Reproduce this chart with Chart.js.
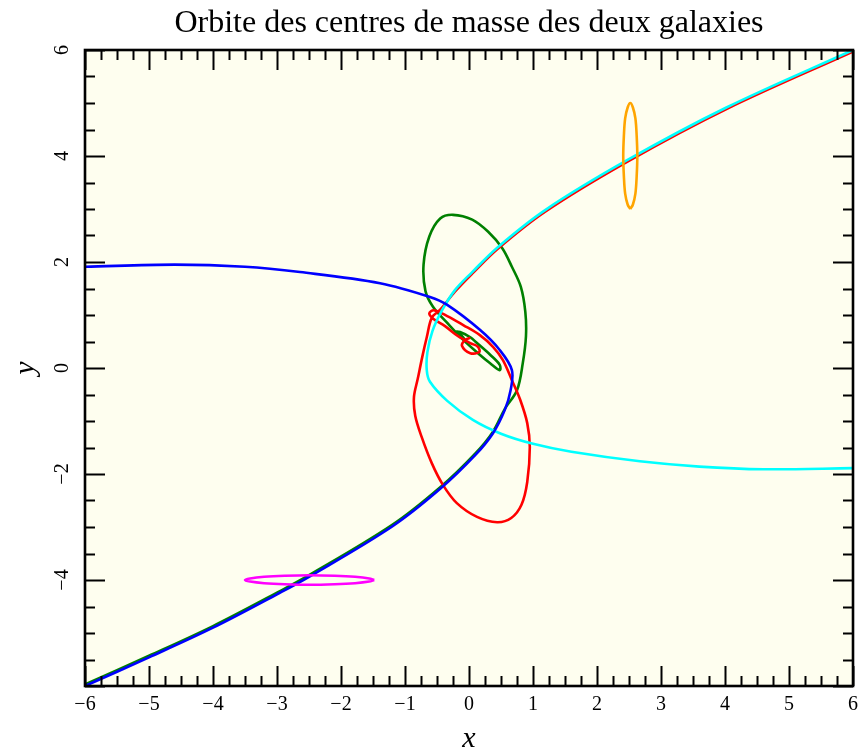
<!DOCTYPE html>
<html>
<head>
<meta charset="utf-8">
<script src="https://cdn.jsdelivr.net/npm/chart.js@4.4.0/dist/chart.umd.min.js"></script>
<style>
  html, body { margin: 0; padding: 0; background: #ffffff; }
</style>
</head>
<body>
<canvas id="orbit" width="860" height="753"></canvas>
<script>
// Orbites (unités du graphique)
const blueX = [-6, -4.6, -3.5, -2.64, -1.39, -0.61, -0.34, 0.17, 0.48, 0.67, 0.65, 0.56, 0.375, 0.1, -0.45, -1.2, -2.5, -3, -4, -5, -6];
const blueY = [1.91, 1.95, 1.91, 1.81, 1.60, 1.34, 1.19, 0.72, 0.34, -0.04, -0.42, -0.79, -1.23, -1.64, -2.28, -2.99, -3.94, -4.27, -4.90, -5.46, -6];

const cyanX = [6, 4.03, 2.47, 1.19, 0.45, 0.05, -0.22, -0.42, -0.57, -0.65, -0.66, -0.61, -0.34, 0.06, 0.5, 1.0, 1.6, 2.67, 3.6, 4.6, 6];
const cyanY = [6, 4.92, 3.92, 2.98, 2.28, 1.81, 1.47, 1.09, 0.70, 0.30, -0.04, -0.26, -0.62, -0.98, -1.24, -1.43, -1.58, -1.76, -1.86, -1.91, -1.89];

const redX = [6, 4.03, 2.47, 1.19, 0.45, 0.05, -0.22, -0.45, -0.58, -0.66, -0.73, -0.80, -0.86, -0.84, -0.74, -0.58, -0.41, -0.19, 0.125, 0.44, 0.66, 0.82, 0.91, 0.95, 0.91, 0.80, 0.67, 0.53, 0.375, 0.17, -0.09, -0.34, -0.55, -0.62, -0.56, -0.375, -0.17, 0.02, 0.14, 0.16, 0.02, -0.11, -0.06, 0.02];
const redY = [5.97, 4.89, 3.89, 2.95, 2.25, 1.78, 1.44, 1.10, 0.95, 0.58, 0.21, -0.20, -0.55, -0.90, -1.30, -1.80, -2.20, -2.55, -2.81, -2.91, -2.83, -2.58, -2.15, -1.49, -1.04, -0.60, -0.23, 0.15, 0.40, 0.62, 0.81, 0.98, 1.09, 1.03, 0.93, 0.79, 0.60, 0.47, 0.40, 0.30, 0.28, 0.42, 0.53, 0.57];

const greenX = [-6, -5, -4, -3, -2.5, -1.2, -0.45, 0.1, 0.375, 0.56, 0.75, 0.84, 0.89, 0.88, 0.81, 0.67, 0.52, 0.30, 0.05, -0.25, -0.45, -0.62, -0.71, -0.68, -0.56, -0.34, -0.09, 0.14, 0.33, 0.48, 0.48, 0.33, 0.125, 0.02, -0.14, -0.22, -0.12, -0.06];
const greenY = [-5.97, -5.43, -4.87, -4.24, -3.91, -2.96, -2.25, -1.61, -1.2, -0.77, -0.42, 0.09, 0.60, 1.06, 1.53, 1.91, 2.26, 2.57, 2.80, 2.89, 2.82, 2.48, 1.95, 1.45, 1.15, 0.85, 0.53, 0.28, 0.09, -0.04, 0.06, 0.25, 0.47, 0.58, 0.68, 0.68, 0.62, 0.52];

// Disques initiaux des galaxies
const orangeX = [2.52, 2.56, 2.60, 2.62, 2.63, 2.62, 2.60, 2.56, 2.52, 2.48, 2.44, 2.42, 2.41, 2.42, 2.44, 2.48, 2.52];
const orangeY = [3.00, 3.08, 3.29, 3.62, 4.00, 4.38, 4.71, 4.92, 5.00, 4.92, 4.71, 4.38, 4.00, 3.62, 3.29, 3.08, 3.00];

const magentaX = [-1.48, -1.56, -1.78, -2.10, -2.49, -2.88, -3.20, -3.42, -3.50, -3.42, -3.20, -2.88, -2.49, -2.10, -1.78, -1.56, -1.48];
const magentaY = [-4.00, -3.97, -3.94, -3.92, -3.91, -3.92, -3.94, -3.97, -4.00, -4.03, -4.06, -4.08, -4.09, -4.08, -4.06, -4.03, -4.00];

// Graduations
const xTickValues = [-6, -5, -4, -3, -2, -1, 0, 1, 2, 3, 4, 5, 6];
const xTickLabels = ['\u22126', '\u22125', '\u22124', '\u22123', '\u22122', '\u22121', '0', '1', '2', '3', '4', '5', '6'];
const yTickValues = [-6, -4, -2, 0, 2, 4, 6];
const yTickLabels = ['', '\u22124', '\u22122', '0', '2', '4', '6'];
const xMinorStep = 0.25;
const yMinorStep = 0.5;

const pts = (xs, ys) => xs.map((x, i) => ({ x: x, y: ys[i] }));

const serif = '"Liberation Serif", "DejaVu Serif", serif';

// Cadre, graduations intérieures et textes
const framePlugin = {
    id: 'frame',
    beforeDatasetsDraw(chart) {
        const { ctx, chartArea: a } = chart;
        ctx.save();
        ctx.fillStyle = '#fefeef';
        ctx.fillRect(a.left, a.top, a.right - a.left, a.bottom - a.top);
        ctx.restore();
    },
    afterDraw(chart) {
        const { ctx, chartArea: a, scales } = chart;
        const sx = scales.x, sy = scales.y;
        const seg = (x1, y1, x2, y2) => { ctx.beginPath(); ctx.moveTo(x1, y1); ctx.lineTo(x2, y2); ctx.stroke(); };
        ctx.save();
        ctx.strokeStyle = '#000';
        ctx.lineWidth = 2;
        ctx.lineCap = 'butt';

        // abscisses
        for (let v = -6; v <= 6.001; v += xMinorStep) {
            const major = Math.abs(v - Math.round(v)) < 1e-6;
            const len = major ? 20 : 10;
            const p = Math.round(sx.getPixelForValue(v)) + 0.5;
            seg(p, a.bottom, p, a.bottom - len);
            seg(p, a.top, p, a.top + len);
        }
        // ordonnées
        for (let v = -6; v <= 6.001; v += yMinorStep) {
            const major = Math.abs(v / 2 - Math.round(v / 2)) < 1e-6;
            const len = major ? 20 : 10;
            const p = Math.round(sy.getPixelForValue(v)) + 0.5;
            seg(a.left, p, a.left + len, p);
            seg(a.right, p, a.right - len, p);
        }

        ctx.lineWidth = 2.6;
        ctx.strokeRect(a.left, a.top, a.right - a.left, a.bottom - a.top);

        ctx.fillStyle = '#000';
        ctx.font = '20px ' + serif;
        ctx.textAlign = 'center';
        ctx.textBaseline = 'middle';
        xTickValues.forEach((v, i) => {
            ctx.fillText(xTickLabels[i], sx.getPixelForValue(v), a.bottom + 19);
        });
        yTickValues.forEach((v, i) => {
            if (!yTickLabels[i]) return;
            ctx.save();
            ctx.translate(a.left - 22, sy.getPixelForValue(v));
            ctx.rotate(-Math.PI / 2);
            ctx.fillText(yTickLabels[i], 0, 0);
            ctx.restore();
        });

        // titres des axes
        ctx.font = 'italic 30px ' + serif;
        ctx.fillText('x', (a.left + a.right) / 2, 739);
        ctx.save();
        ctx.translate(26, (a.top + a.bottom) / 2);
        ctx.rotate(-Math.PI / 2);
        ctx.fillText('y', 0, 0);
        ctx.restore();

        // titre
        ctx.font = '32px ' + serif;
        ctx.textBaseline = 'alphabetic';
        ctx.fillText('Orbite des centres de masse des deux galaxies', (a.left + a.right) / 2, 32);
        ctx.restore();
    }
};

const lineStyle = { showLine: true, pointRadius: 0, borderWidth: 2.6, tension: 0.35, fill: false };

new Chart(document.getElementById('orbit'), {
    type: 'scatter',
    data: {
        datasets: [
            { ...lineStyle, label: 'orange', data: pts(orangeX, orangeY), borderColor: '#ffa500', order: 0 },
            { ...lineStyle, label: 'magenta', data: pts(magentaX, magentaY), borderColor: '#ff00ff', order: 0 },
            { ...lineStyle, label: 'bleu', data: pts(blueX, blueY), borderColor: '#0000ff', order: 1 },
            { ...lineStyle, label: 'cyan', data: pts(cyanX, cyanY), borderColor: '#00ffff', order: 1 },
            { ...lineStyle, label: 'rouge', data: pts(redX, redY), borderColor: '#ff0000', order: 2 },
            { ...lineStyle, label: 'vert', data: pts(greenX, greenY), borderColor: '#008000', order: 2 }
        ]
    },
    options: {
        responsive: false,
        animation: false,
        layout: { padding: { left: 85, right: 7, top: 50, bottom: 67 } },
        scales: {
            x: { type: 'linear', min: -6, max: 6, display: false },
            y: { type: 'linear', min: -6, max: 6, display: false }
        },
        plugins: {
            legend: { display: false },
            tooltip: { enabled: false },
            title: { display: false }
        }
    },
    plugins: [framePlugin]
});
</script>
</body>
</html>
